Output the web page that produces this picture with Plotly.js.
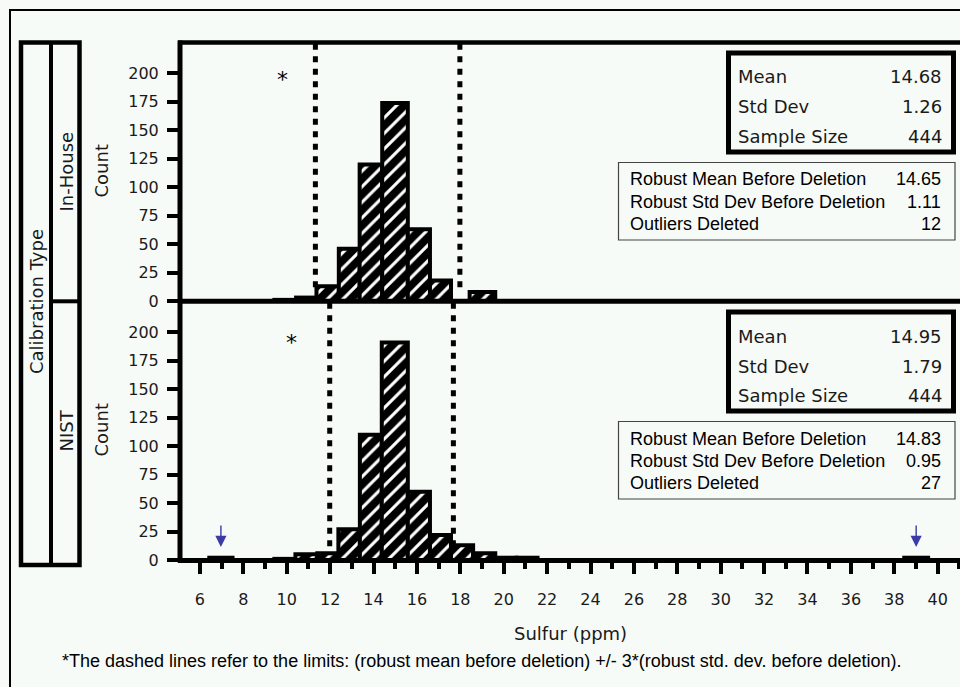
<!DOCTYPE html>
<html>
<head>
<meta charset="utf-8">
<script src="https://cdn.plot.ly/plotly-3.0.1.min.js"></script>
<style>
html,body{margin:0;padding:0;background:#f7fbf7;overflow:hidden;}
#chart{width:960px;height:687px;}
</style>
</head>
<body>
<div id="chart"></div>
<script>
// ---------- data ----------
const panels = ['In-House', 'NIST'];

// In-House histogram bins (left edge, right edge, count)
const inHouseLeft  = [9.43, 10.43, 11.37, 12.40, 13.36, 14.40, 15.58, 16.60, 18.43];
const inHouseRight = [10.43, 11.37, 12.40, 13.36, 14.40, 15.58, 16.60, 17.57, 19.61];
const inHouseCount = [1, 3, 13, 46, 120, 174, 63, 18, 8];

// NIST histogram bins
const nistLeft  = [6.43, 9.43, 10.40, 11.41, 12.38, 13.37, 14.38, 15.58, 16.60, 17.57, 18.59, 19.61, 20.60, 38.46];
const nistRight = [7.50, 10.40, 11.41, 12.38, 13.37, 14.38, 15.58, 16.60, 17.57, 18.59, 19.61, 20.60, 21.56, 39.56];
const nistCount = [2, 1, 5, 6, 27, 110, 191, 60, 22, 13, 6, 2, 2, 2];
const nistOutlierIdx = [0, 13];

// summary statistics
const statLabels = ['Mean', 'Std Dev', 'Sample Size'];
const inHouseStats = [14.68, 1.26, 444];
const nistStats = [14.95, 1.79, 444];

const robustLabels = ['Robust Mean Before Deletion', 'Robust Std Dev Before Deletion', 'Outliers Deleted'];
const inHouseRobust = [14.65, 1.11, 12];
const nistRobust = [14.83, 0.95, 27];

const yTickVals = [0, 25, 50, 75, 100, 125, 150, 175, 200];
const xTitle = 'Sulfur (ppm)';
const footnote = '*The dashed lines refer to the limits: (robust mean before deletion) +/- 3*(robust std. dev. before deletion).';

// ---------- helpers ----------
const BG = '#f7fbf7';
const SAS = 'DejaVu Sans, Verdana, sans-serif';
const ARIAL = 'Liberation Sans, Arial, sans-serif';
const TXT = '#1a1a1a';
function px(x){ return (x - 180) / 780; }
function py(y){ return (560 - y) / 518; }
function centers(l, r){ return l.map((v, i) => (v + r[i]) / 2); }
function widths(l, r){ return l.map((v, i) => r[i] - v); }
function fmt(v, i){ return i === 2 ? String(v) : v.toFixed(2); }

const pattern = {shape: '/', fgcolor: '#ffffff', bgcolor: '#000000', size: 11, solidity: 0.28};

const traces = [
  {type: 'bar', x: centers(inHouseLeft, inHouseRight), width: widths(inHouseLeft, inHouseRight),
   y: inHouseCount, xaxis: 'x2', yaxis: 'y2', name: panels[0],
   marker: {color: '#000', pattern: pattern, line: {color: '#000', width: 4}}, hoverinfo: 'x+y'},
  {type: 'bar', x: centers(nistLeft, nistRight), width: widths(nistLeft, nistRight),
   y: nistCount, xaxis: 'x', yaxis: 'y', name: panels[1],
   marker: {color: '#000', pattern: pattern, line: {color: '#000', width: 4}}, hoverinfo: 'x+y'}
];

const shapes = [];
const annotations = [];

// outer border
shapes.push({type: 'rect', xref: 'paper', yref: 'paper', x0: px(10), x1: px(1000), y0: py(10), y1: py(720),
             line: {color: '#000', width: 2}, fillcolor: 'rgba(0,0,0,0)'});
// frame lines
shapes.push({type: 'line', xref: 'paper', yref: 'paper', x0: px(178), x1: px(962), y0: py(42.5), y1: py(42.5), line: {color: '#000', width: 4.5}});
shapes.push({type: 'line', xref: 'paper', yref: 'paper', x0: px(180), x1: px(180), y0: py(562.5), y1: py(40.5), line: {color: '#000', width: 5}});
shapes.push({type: 'line', xref: 'paper', yref: 'paper', x0: px(178), x1: px(962), y0: py(301.3), y1: py(301.3), line: {color: '#000', width: 5}});
shapes.push({type: 'line', xref: 'paper', yref: 'paper', x0: px(178), x1: px(962), y0: py(560.5), y1: py(560.5), line: {color: '#000', width: 5}});

// left header box
shapes.push({type: 'rect', xref: 'paper', yref: 'paper', x0: px(21), x1: px(79.5), y0: py(42.5), y1: py(565),
             line: {color: '#000', width: 4.5}, fillcolor: 'rgba(0,0,0,0)'});
shapes.push({type: 'line', xref: 'paper', yref: 'paper', x0: px(51), x1: px(51), y0: py(42.5), y1: py(565), line: {color: '#000', width: 4}});
shapes.push({type: 'line', xref: 'paper', yref: 'paper', x0: px(51), x1: px(79.5), y0: py(301.3), y1: py(301.3), line: {color: '#000', width: 4}});
annotations.push({xref: 'paper', yref: 'paper', x: px(36), y: py(302), text: 'Calibration Type', textangle: -90, showarrow: false,
                  xanchor: 'center', yanchor: 'middle', font: {family: SAS, size: 18, color: TXT}});

// per-panel decorations
const panelInfo = [
  {name: panels[0], top: 42, xref: 'x2', yref: 'y2', stats: inHouseStats, robust: inHouseRobust, star: [9.8, 195]},
  {name: panels[1], top: 301, xref: 'x', yref: 'y', stats: nistStats, robust: nistRobust, star: [10.2, 191]}
];
panelInfo.forEach(p => {
  const mid = p.top + 129.5;
  annotations.push({xref: 'paper', yref: 'paper', x: px(66), y: py(mid), text: p.name, textangle: -90, showarrow: false,
                    xanchor: 'center', yanchor: 'middle', font: {family: SAS, size: 18, color: TXT}});
  annotations.push({xref: 'paper', yref: 'paper', x: px(101), y: py(mid), text: 'Count', textangle: -90, showarrow: false,
                    xanchor: 'center', yanchor: 'middle', font: {family: SAS, size: 18, color: TXT}});
  // robust limits (dashed lines)
  const lo = p.robust[0] - 3 * p.robust[1];
  const hi = p.robust[0] + 3 * p.robust[1];
  [lo, hi].forEach(v => {
    shapes.push({type: 'line', xref: p.xref, yref: p.yref, x0: v, x1: v, y0: 12, y1: 227.5, layer: 'below',
                 line: {color: '#000', width: 5, dash: '6px,6.5px'}});
  });
  // asterisk
  annotations.push({xref: p.xref, yref: p.yref, x: p.star[0], y: p.star[1], text: '*', showarrow: false,
                    xanchor: 'center', yanchor: 'middle', font: {family: SAS, size: 22, color: '#000'}});
  // thick statistics box
  shapes.push({type: 'rect', xref: 'paper', yref: 'paper', x0: px(728.5), x1: px(953.5), y0: py(p.top + 11), y1: py(p.top + 110),
               line: {color: '#000', width: 5}, fillcolor: 'rgba(0,0,0,0)'});
  const rowY = [35, 65, 94];
  statLabels.forEach((lab, i) => {
    annotations.push({xref: 'paper', yref: 'paper', x: px(736), y: py(p.top + rowY[i]), text: lab, showarrow: false,
                      xanchor: 'left', yanchor: 'middle', font: {family: SAS, size: 18, color: TXT}});
    annotations.push({xref: 'paper', yref: 'paper', x: px(944), y: py(p.top + rowY[i]), text: fmt(p.stats[i], i), showarrow: false,
                      xanchor: 'right', yanchor: 'middle', font: {family: SAS, size: 18, color: TXT}});
  });
  // thin robust box
  shapes.push({type: 'rect', xref: 'paper', yref: 'paper', x0: px(618.5), x1: px(955), y0: py(p.top + 120.5), y1: py(p.top + 198),
               line: {color: '#444', width: 1.2}, fillcolor: 'rgba(0,0,0,0)'});
  const rY = [137.5, 160, 182];
  robustLabels.forEach((lab, i) => {
    annotations.push({xref: 'paper', yref: 'paper', x: px(628), y: py(p.top + rY[i]), text: lab, showarrow: false,
                      xanchor: 'left', yanchor: 'middle', font: {family: ARIAL, size: 18, color: '#000'}});
    annotations.push({xref: 'paper', yref: 'paper', x: px(943), y: py(p.top + rY[i]), text: fmt(p.robust[i], i), showarrow: false,
                      xanchor: 'right', yanchor: 'middle', font: {family: ARIAL, size: 18, color: '#000'}});
  });
});

// outlier arrows in NIST panel
nistOutlierIdx.forEach(i => {
  annotations.push({xref: 'x', yref: 'y', x: (nistLeft[i] + nistRight[i]) / 2, y: 11.5, text: '', showarrow: true,
                    ax: 0, ay: -23, arrowhead: 2, arrowsize: 1.6, arrowwidth: 1.4, arrowcolor: '#3b3ba6', standoff: 0});
});

// axis title and footnote
annotations.push({xref: 'paper', yref: 'paper', x: px(570.5), y: py(633), text: xTitle, showarrow: false,
                  xanchor: 'center', yanchor: 'middle', font: {family: SAS, size: 18, color: TXT}});
annotations.push({xref: 'paper', yref: 'paper', x: px(60), y: py(661), text: footnote, showarrow: false,
                  xanchor: 'left', yanchor: 'middle', font: {family: ARIAL, size: 18, color: '#000'}});

const yAxisBase = {range: [0, 227.5], tickvals: yTickVals, ticks: 'outside', ticklen: 12, tickwidth: 4, tickcolor: '#000',
                   showgrid: false, zeroline: false, showline: false, ticklabelstandoff: 5,
                   tickfont: {family: SAS, size: 16, color: TXT}, fixedrange: true};

const layout = {
  width: 960, height: 687,
  margin: {l: 180, r: 0, t: 42, b: 127, pad: 0},
  paper_bgcolor: BG, plot_bgcolor: BG,
  showlegend: false, bargap: 0,
  xaxis: {domain: [0, 1], range: [5.08, 41.03], anchor: 'y', tick0: 0, dtick: 2, ticks: 'outside', ticklen: 13, tickwidth: 4,
          tickcolor: '#000', showgrid: false, zeroline: false, showline: false, ticklabelstandoff: 12,
          tickfont: {family: SAS, size: 16, color: TXT},
          minor: {dtick: 1, tick0: 0, ticks: 'outside', ticklen: 8, tickwidth: 4, tickcolor: '#000', showgrid: false},
          fixedrange: true},
  xaxis2: {domain: [0, 1], matches: 'x', anchor: 'y2', showticklabels: false, ticks: '', showgrid: false, zeroline: false, showline: false},
  yaxis: Object.assign({domain: [0, 0.5], anchor: 'x'}, yAxisBase),
  yaxis2: Object.assign({domain: [0.5, 1], anchor: 'x2'}, yAxisBase),
  shapes: shapes,
  annotations: annotations
};

Plotly.newPlot('chart', traces, layout, {displayModeBar: false, staticPlot: true});
</script>
</body>
</html>
